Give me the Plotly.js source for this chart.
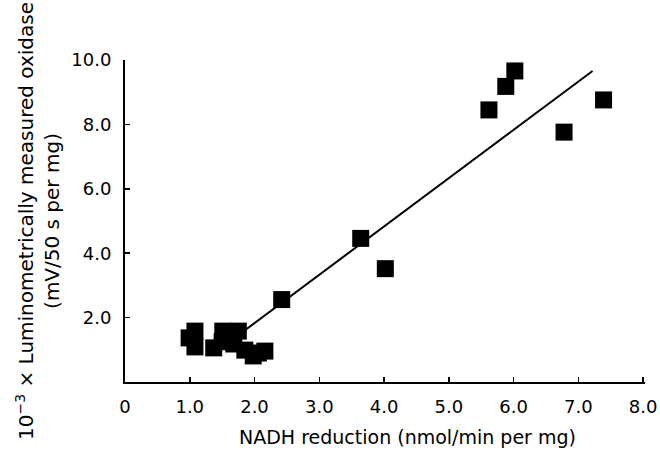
<!DOCTYPE html>
<html>
<head>
<meta charset="utf-8">
<script src="https://cdn.plot.ly/plotly-3.0.1.min.js"></script>
<style>html,body{margin:0;padding:0;background:#fff;}</style>
</head>
<body>
<div id="chart" style="width:660px;height:451px;"></div>
<script>
// NADH reduction (nmol/min per mg)
const nadh = [0.99, 1.08, 1.08, 1.37, 1.51, 1.50, 1.62, 1.75, 1.68, 1.85, 1.98, 2.06, 2.16,
              2.42, 3.64, 4.02, 5.62, 5.88, 6.02, 6.78, 7.39];
// 10^-3 x luminometrically measured oxidase (mV/50 s per mg)
const oxidase = [1.37, 1.58, 1.09, 1.06, 1.58, 1.25, 1.45, 1.58, 1.18, 0.99, 0.81, 0.90, 0.96,
                 2.56, 4.46, 3.52, 8.45, 9.18, 9.66, 7.76, 8.76];
// regression line end points
const fitX = [1.8, 7.22];
const fitY = [1.53, 9.66];

const xTickVals = [0, 1, 2, 3, 4, 5, 6, 7, 8];
const xTickText = ['0', '1.0', '2.0', '3.0', '4.0', '5.0', '6.0', '7.0', '8.0'];
const yTickVals = [2, 4, 6, 8, 10];
const yTickText = ['2.0', '4.0', '6.0', '8.0', '10.0'];

const xTitle = 'NADH reduction (nmol/min per mg)';
const yTitle = '10<sup>−3</sup> × Luminometrically measured oxidase<br>(mV/50 s per mg)';

const FONT = 'DejaVu Sans, Liberation Sans, Arial, sans-serif';

const traces = [
  {
    x: fitX, y: fitY, type: 'scatter', mode: 'lines',
    line: {color: '#000', width: 2}, hoverinfo: 'skip', showlegend: false
  },
  {
    x: nadh, y: oxidase, type: 'scatter', mode: 'markers',
    marker: {symbol: 'square', size: 17, color: '#000', line: {width: 0}},
    showlegend: false
  }
];

const layout = {
  width: 660, height: 451,
  margin: {l: 125, r: 15, t: 60, b: 69},
  paper_bgcolor: '#fff', plot_bgcolor: '#fff',
  font: {family: FONT, color: '#000'},
  showlegend: false,
  xaxis: {
    range: [0, 8.03], showgrid: false, zeroline: false,
    showline: true, linecolor: '#000', linewidth: 2,
    ticks: 'inside', ticklen: 5, tickwidth: 1.5, tickcolor: '#000',
    tickvals: xTickVals, ticktext: xTickText,
    tickfont: {family: FONT, size: 18, color: '#000'},
    ticklabelstandoff: 7
  },
  yaxis: {
    range: [0, 10], showgrid: false, zeroline: false,
    showline: true, linecolor: '#000', linewidth: 2,
    ticks: 'inside', ticklen: 5, tickwidth: 1.5, tickcolor: '#000',
    tickvals: yTickVals, ticktext: yTickText,
    tickfont: {family: FONT, size: 18, color: '#000'},
    ticklabelstandoff: 8,
    title: {text: yTitle, font: {family: FONT, size: 20, color: '#000'}, standoff: 6}
  },
  annotations: [{
    text: xTitle, xref: 'paper', yref: 'paper',
    x: 0.544, y: -0.171, xanchor: 'center', yanchor: 'middle',
    showarrow: false, font: {family: FONT, size: 19, color: '#000'}
  }]
};

Plotly.newPlot('chart', traces, layout, {displayModeBar: false, staticPlot: true});
</script>
</body>
</html>
